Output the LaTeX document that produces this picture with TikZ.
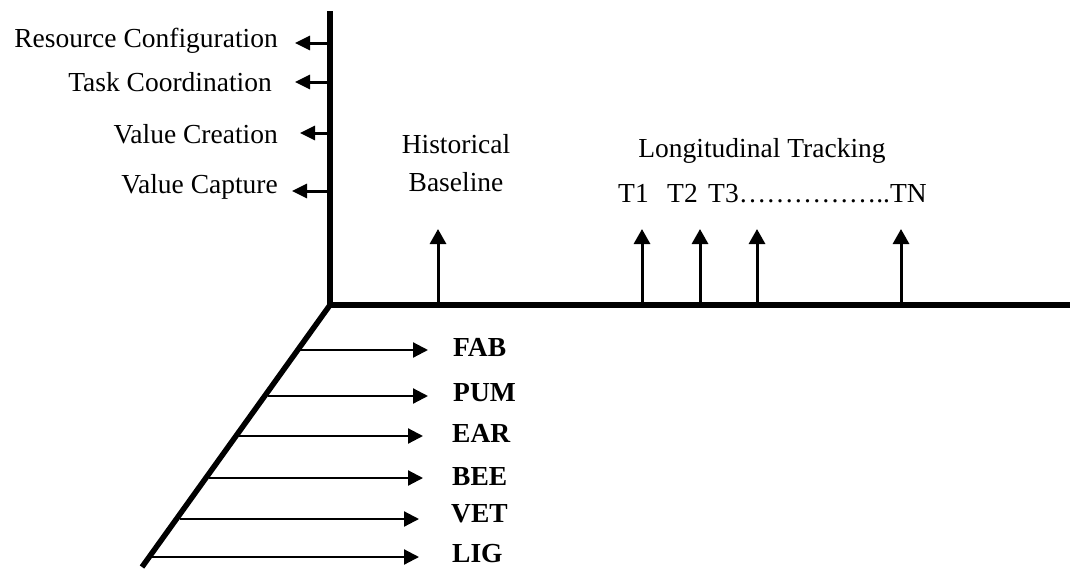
\documentclass[tikz,border=0pt]{standalone}
\usepackage{fontspec}
\setmainfont{Liberation Serif}
\usetikzlibrary{arrows.meta}
\begin{document}
\begin{tikzpicture}[x=1pt,y=-1pt,
  axisline/.style={line width=5.5pt},
  uparrow/.style={line width=3pt,-{Triangle[length=15pt,width=16pt]}},
  leftarrow/.style={line width=3pt,-{Triangle[length=15pt,width=14pt]}},
  rightarrow/.style={line width=2.2pt,-{Triangle[length=15pt,width=15pt]}},
  lbl/.style={inner sep=0pt,font=\fontsize{27.5}{33}\selectfont},
  blbl/.style={inner sep=0pt,anchor=base west,font=\fontsize{27.5}{33}\selectfont\bfseries}]
\useasboundingbox (0,0) rectangle (1070,570);
% axes
\coordinate (O) at (330,305);
\coordinate (top) at (330,11);
\coordinate (right) at (1072,305);
\coordinate (dbot) at (142,567);
\draw[axisline,line join=miter] (top) -- (O) -- (right);
\draw[axisline] (O) -- (dbot);
% left labels and arrows
\node[lbl,anchor=base east] (rc) at (278,47) {Resource Configuration};
\node[lbl,anchor=base east] (tc) at (272,91) {Task Coordination};
\node[lbl,anchor=base east] (vcr) at (278,143) {Value Creation};
\node[lbl,anchor=base east] (vca) at (278,193) {Value Capture};
\coordinate (a1) at (330,43); \coordinate (t1) at (295,43);
\coordinate (a2) at (330,82); \coordinate (t2) at (295,82);
\coordinate (a3) at (330,133); \coordinate (t3) at (300,133);
\coordinate (a4) at (330,191); \coordinate (t4) at (292,191);
\draw[leftarrow] (a1) -- (t1);
\draw[leftarrow] (a2) -- (t2);
\draw[leftarrow] (a3) -- (t3);
\draw[leftarrow] (a4) -- (t4);
% top labels
\node[lbl,anchor=base] (hist) at (456,153) {Historical};
\node[lbl,anchor=base] (base) at (456,191) {Baseline};
\node[lbl,anchor=base] (long) at (762,157) {Longitudinal Tracking};
\node[lbl,anchor=base west] (T1) at (618,202) {T1};
\node[lbl,anchor=base west] (T2) at (667,202) {T2};
\node[lbl,anchor=base west] (T3) at (708,202) {T3……………..TN};
% upward arrows
\foreach \n/\x in {hb/438, u1/642, u2/700, u3/757, un/901}{
  \coordinate (\n b) at (\x,305);
  \coordinate (\n t) at (\x,229);
  \draw[uparrow] (\n b) -- (\n t);
}
% bottom labels and arrows
\node[blbl] (fab) at (453,356) {FAB};
\node[blbl] (pum) at (453,401) {PUM};
\node[blbl] (ear) at (452,442) {EAR};
\node[blbl] (bee) at (452,485) {BEE};
\node[blbl] (vet) at (451,522) {VET};
\node[blbl] (lig) at (452,562) {LIG};
\foreach \n/\y/\xs/\xt in {f/350/300/428, p/396/268/428, e/436/239/423, b/478/209/423, v/519/180/419, l/557/152/419}{
  \coordinate (\n s) at (\xs,\y);
  \coordinate (\n t) at (\xt,\y);
  \draw[rightarrow] (\n s) -- (\n t);
}
\end{tikzpicture}
\end{document}
